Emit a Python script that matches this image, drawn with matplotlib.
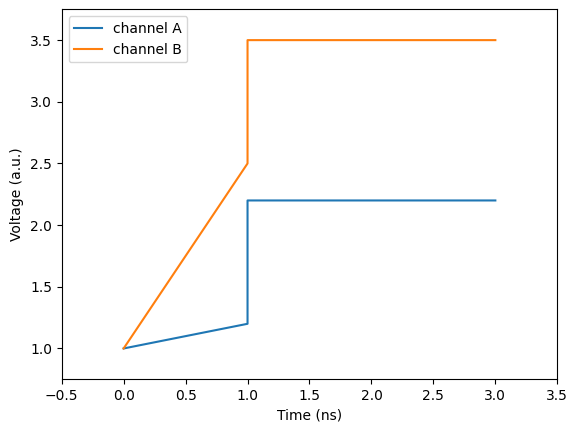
import numpy as np
import matplotlib
matplotlib.use("Agg")
import matplotlib.pyplot as plt

# <-- Data -->
time_ns = [0.0, 1.0, 1.0, 3.0]
channel_a = [1.0, 1.2, 2.2, 2.2]
channel_b = [1.0, 2.5, 3.5, 3.5]

fig = plt.figure(figsize=(5.78, 4.32), dpi=100)
ax = fig.add_axes([0.1067, 0.122, 0.8575, 0.8565])
ax.plot(time_ns, channel_a, label="channel A")
ax.plot(time_ns, channel_b, label="channel B")
ax.set_xlim(-0.5, 3.5)
ax.set_ylim(0.75, 3.75)
ax.set_xlabel("Time (ns)")
ax.set_ylabel("Voltage (a.u.)")
ax.legend(loc="upper left")
fig.savefig("out.png", dpi=100)
